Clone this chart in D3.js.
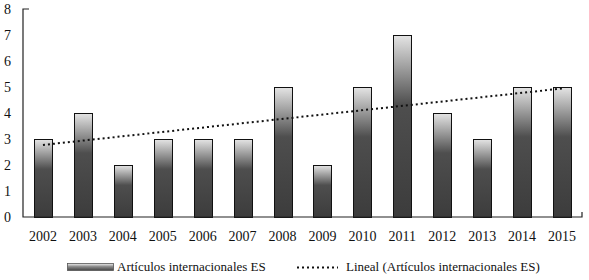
<!DOCTYPE html>
<html><head><meta charset="utf-8">
<script src="https://cdn.jsdelivr.net/npm/d3@7"></script>
<style>html,body{margin:0;padding:0;background:#fff;}svg{display:block;} text{font-family:'Liberation Serif', 'DejaVu Serif', serif;}</style>
</head><body>
<script>
const years = ["2002","2003","2004","2005","2006","2007","2008","2009","2010","2011","2012","2013","2014","2015"];
const values = [3,4,2,3,3,3,5,2,5,7,4,3,5,5];
const yTicks = [0,1,2,3,4,5,6,7,8];
const seriesName = "Artículos internacionales ES";
const trendName = "Lineal (Artículos internacionales ES)";

(function(){
const W = 589, H = 280;
const FONT = "'Liberation Serif', 'DejaVu Serif', serif";
const svg = d3.select("body").append("svg").attr("width", W).attr("height", H).attr("font-family", FONT);
const defs = svg.append("defs");
const g1 = defs.append("linearGradient").attr("id","barGrad").attr("x1",0).attr("y1",0).attr("x2",0).attr("y2",1);
g1.append("stop").attr("offset","0%").attr("stop-color","#e4e4e4");
g1.append("stop").attr("offset","38%").attr("stop-color","#4e4e4e");
g1.append("stop").attr("offset","100%").attr("stop-color","#3c3c3c");
const g2 = defs.append("linearGradient").attr("id","legGrad").attr("x1",0).attr("y1",0).attr("x2",0).attr("y2",1);
g2.append("stop").attr("offset","0%").attr("stop-color","#f2f2f2");
g2.append("stop").attr("offset","45%").attr("stop-color","#8a8a8a");
g2.append("stop").attr("offset","100%").attr("stop-color","#444");

const mL = 23, mR = 582, mT = 9, mB = 217;
const x = d3.scaleBand().domain(years).range([mL, mR]).paddingInner(0.55).paddingOuter(0.275);
const y = d3.scaleLinear().domain([0, 8]).range([mB, mT]);

// bars
svg.append("g").selectAll("rect").data(values).join("rect")
  .attr("x", (d,i) => Math.round(x(years[i])) + 0.5)
  .attr("y", d => Math.round(y(d)) + 0.5)
  .attr("width", Math.round(x.bandwidth()))
  .attr("height", d => Math.round(y(0)) - Math.round(y(d)))
  .attr("fill", "url(#barGrad)")
  .attr("stroke", "#111").attr("stroke-width", 1);

// axes
svg.append("path").attr("d", `M${mL+6},${mT}H${mL}V${mB}H${mR}V${mB-5}`)
  .attr("stroke", "#222").attr("stroke-width", 1.2).attr("fill","none");

// y labels
svg.append("g").selectAll("text").data(yTicks).join("text")
  .attr("x", 11).attr("y", d => y(d) + 5)
  .attr("font-family", FONT)
  .attr("text-anchor", "end").attr("font-size", 14).attr("fill", "#111")
  .text(d => d);

// x labels
svg.append("g").selectAll("text").data(years).join("text")
  .attr("x", d => x(d) + x.bandwidth()/2).attr("y", 241)
  .attr("font-family", FONT)
  .attr("text-anchor", "middle").attr("font-size", 14).attr("fill", "#111")
  .text(d => d);

// linear trend (least squares from the data)
const n = values.length;
const mx = d3.mean(values, (d,i) => i), my = d3.mean(values);
const slope = d3.sum(values, (d,i) => (i-mx)*(d-my)) / d3.sum(values, (d,i) => (i-mx)*(i-mx));
const icpt = my - slope*mx;
const trend = years.map((yr,i) => [x(yr) + x.bandwidth()/2, y(icpt + slope*i)]);
svg.append("path").attr("d", d3.line()([trend[0], trend[n-1]]))
  .attr("stroke", "#111").attr("stroke-width", 2).attr("stroke-dasharray", "2,3").attr("fill","none");

// legend
svg.append("rect").attr("x", 67.5).attr("y", 263.5).attr("width", 46).attr("height", 7)
  .attr("fill", "url(#legGrad)").attr("stroke", "#555").attr("stroke-width", 0.8);
svg.append("text").attr("x", 117).attr("y", 271).attr("font-family", FONT).attr("font-size", 13).attr("fill","#111").text(seriesName);
svg.append("line").attr("x1", 297).attr("x2", 338).attr("y1", 267.5).attr("y2", 267.5)
  .attr("stroke", "#111").attr("stroke-width", 2).attr("stroke-dasharray", "2,3");
svg.append("text").attr("x", 346).attr("y", 271).attr("font-family", FONT).attr("font-size", 13).attr("fill","#111").text(trendName);
})();
</script>
</body></html>
